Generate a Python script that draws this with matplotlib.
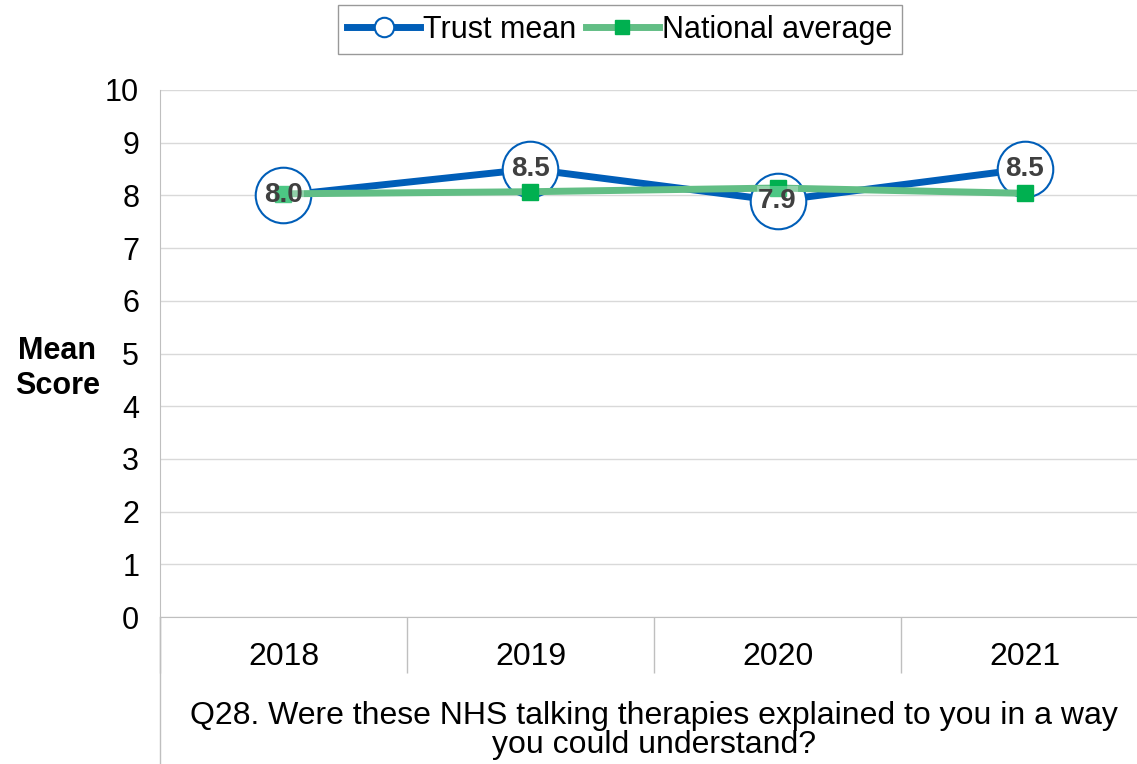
import matplotlib
matplotlib.use("Agg")
import matplotlib.pyplot as plt
from matplotlib.lines import Line2D

years = ["2018", "2019", "2020", "2021"]
trust_mean = [8.0, 8.5, 7.9, 8.5]
national_avg = [8.03, 8.07, 8.14, 8.04]
question = ("Q28. Were these NHS talking therapies explained to you in a way\n"
            "you could understand?")

BLUE = "#005EB8"
GREEN_LINE = "#62BE85"
GREEN_MARK = "#00B050"

plt.rcParams["font.family"] = ["Liberation Sans", "DejaVu Sans"]

fig = plt.figure(figsize=(11.37, 7.64), dpi=100)
ax = fig.add_axes([0.1407, 0.1924, 0.8690, 0.6898])

x = list(range(len(years)))
ax.plot(x, trust_mean, color=BLUE, lw=5, marker="o", markersize=40,
        markerfacecolor="white", markeredgecolor=BLUE,
        markeredgewidth=1.5, zorder=3)
ax.plot(x, national_avg, color=GREEN_LINE, lw=5, marker="s", markersize=11,
        markerfacecolor=GREEN_MARK, markeredgecolor=GREEN_MARK, zorder=4)
for xi, v in zip(x, trust_mean):
    ax.text(xi, v, f"{v:.1f}", ha="center", va="center", fontsize=20,
            fontweight="bold", color="#404040", zorder=5,
            bbox=dict(boxstyle="square,pad=0.05", fc="white", ec="none",
                      alpha=0.3))

ax.set_xlim(-0.5, 3.5)
ax.set_ylim(0, 10)
ax.set_yticks(range(0, 11))
ax.set_xticks(x)
ax.set_xticklabels(years)
ax.set_xticks([-0.5, 0.5, 1.5, 2.5, 3.5], minor=True)
ax.tick_params(axis="x", which="major", length=0, labelsize=23, pad=18)
ax.tick_params(axis="x", which="minor", length=40, color="#BFBFBF", width=1)
ax.tick_params(axis="y", length=0, labelsize=22, pad=15)
ax.grid(axis="y", color="#D9D9D9", lw=1)
ax.set_axisbelow(True)
for s in ("top", "right"):
    ax.spines[s].set_visible(False)
ax.spines["left"].set_color("#BFBFBF")
ax.spines["bottom"].set_color("#BFBFBF")
ax.add_line(Line2D([0, 0], [0, -0.3], transform=ax.transAxes,
                   color="#BFBFBF", lw=1, clip_on=False))

ax.set_ylabel("Mean\nScore", rotation=0, fontsize=22, fontweight="bold",
              ha="center", va="center", linespacing=1.2)
ax.yaxis.set_label_coords(-0.104, 0.472)
ax.set_xlabel(question, fontsize=23, linespacing=0.97)
ax.xaxis.set_label_coords(0.5, -0.272)
ax.xaxis.label.set_va("bottom")

handles = [
    Line2D([], [], color=BLUE, lw=5, marker="o", markersize=14,
           markerfacecolor="white", markeredgecolor=BLUE, markeredgewidth=1.5),
    Line2D([], [], color=GREEN_LINE, lw=5, marker="s", markersize=10,
           markerfacecolor=GREEN_MARK, markeredgecolor=GREEN_MARK),
]
fig.legend(handles, ["Trust mean", "National average"],
           loc="upper center", bbox_to_anchor=(0.545, 0.993), ncol=2,
           fontsize=22, frameon=True, fancybox=False, edgecolor="#808080",
           handlelength=2.4, handletextpad=0.1, columnspacing=0.3,
           borderpad=0.3, borderaxespad=0)

fig.savefig("out.png", dpi=100)
